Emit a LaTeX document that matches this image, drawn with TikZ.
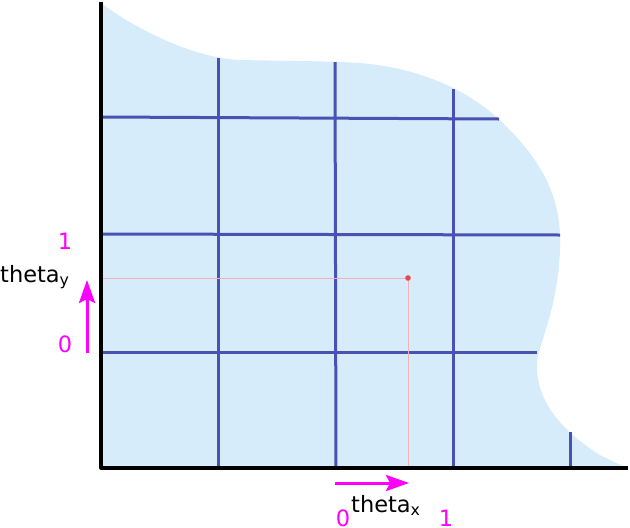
\documentclass[tikz,border=0pt]{standalone}
\usepackage{fontspec}
\setmainfont{DejaVu Sans}
\usetikzlibrary{arrows.meta}

\definecolor{regionblue}{RGB}{214,236,251}
\definecolor{gridblue}{RGB}{72,82,178}
\definecolor{pointred}{RGB}{232,72,72}
\definecolor{tracepink}{RGB}{240,178,186}
\definecolor{thetamagenta}{RGB}{255,0,255}

\tikzset{
  gridline/.style={draw=gridblue, line width=3pt},
  axisline/.style={draw=black, line width=3.2pt},
  traceline/.style={draw=tracepink, line width=1pt},
  thetaarrow/.style={draw=thetamagenta, line width=3pt, -{Stealth[length=23pt,width=16pt,inset=4pt]}},
  numlabel/.style={anchor=center, inner sep=0pt, text=thetamagenta, font=\fontsize{22.5}{27}\selectfont},
  namelabel/.style={anchor=base west, inner sep=0pt, font=\fontsize{22.5}{27}\selectfont}
}

\begin{document}
\begin{tikzpicture}[x=1pt, y=-1pt, line cap=butt, line join=round]

  %% ════ region ════
  \fill[regionblue] (101,3) .. controls (130,25) and (190,58) .. (240,60)
    .. controls (290,61) and (330,61) .. (360,63)
    .. controls (420,68) and (470,90) .. (505,125)
    .. controls (545,165) and (562,200) .. (560,250)
    .. controls (558,300) and (545,330) .. (538,355)
    .. controls (532,390) and (552,425) .. (600,455)
    .. controls (612,461) and (620,465) .. (628,468)
    -- (101,468) -- cycle;

  %% ════ grid ════
  \draw[gridline] (101,117) -- (499,119);
  \draw[gridline] (101,234) -- (560,235);
  \draw[gridline] (101,352) -- (537,352);
  \draw[gridline] (218,58) -- (218,468);
  \draw[gridline] (335,62) -- (336,468);
  \draw[gridline] (453,89) -- (453,468);
  \draw[gridline] (570,432) -- (570,468);

  %% ════ sample point ════
  \coordinate (p) at (408,278);
  \coordinate (py) at (101,278);
  \coordinate (px) at (408,468);
  \draw[traceline] (py) -- (p) -- (px);
  \fill[pointred] (p) circle (2.8);

  %% ════ axes ════
  \coordinate (origin) at (101,468);
  \draw[axisline] (101,2) -- (origin) -- (628,468);

  %% ════ labels ════
  \node[numlabel] (ytop) at (65,241) {1};
  \node[numlabel] (ybot) at (65,344) {0};
  \node[namelabel] (thetay) at (0,282) {theta\textsubscript{y}};
  \node[numlabel] (xleft) at (343,518) {0};
  \node[numlabel] (xright) at (446,518) {1};
  \node[namelabel] (thetax) at (351,512) {theta\textsubscript{x}};

  %% ════ arrows ════
  \coordinate (ya) at (87,353);
  \coordinate (yb) at (87,280);
  \coordinate (xa) at (335,483);
  \coordinate (xb) at (409,483);
  \draw[thetaarrow] (ya) -- (yb);
  \draw[thetaarrow] (xa) -- (xb);

  \pgfresetboundingbox
  \path[use as bounding box] (0,0) rectangle (630,528);
\end{tikzpicture}
\end{document}
